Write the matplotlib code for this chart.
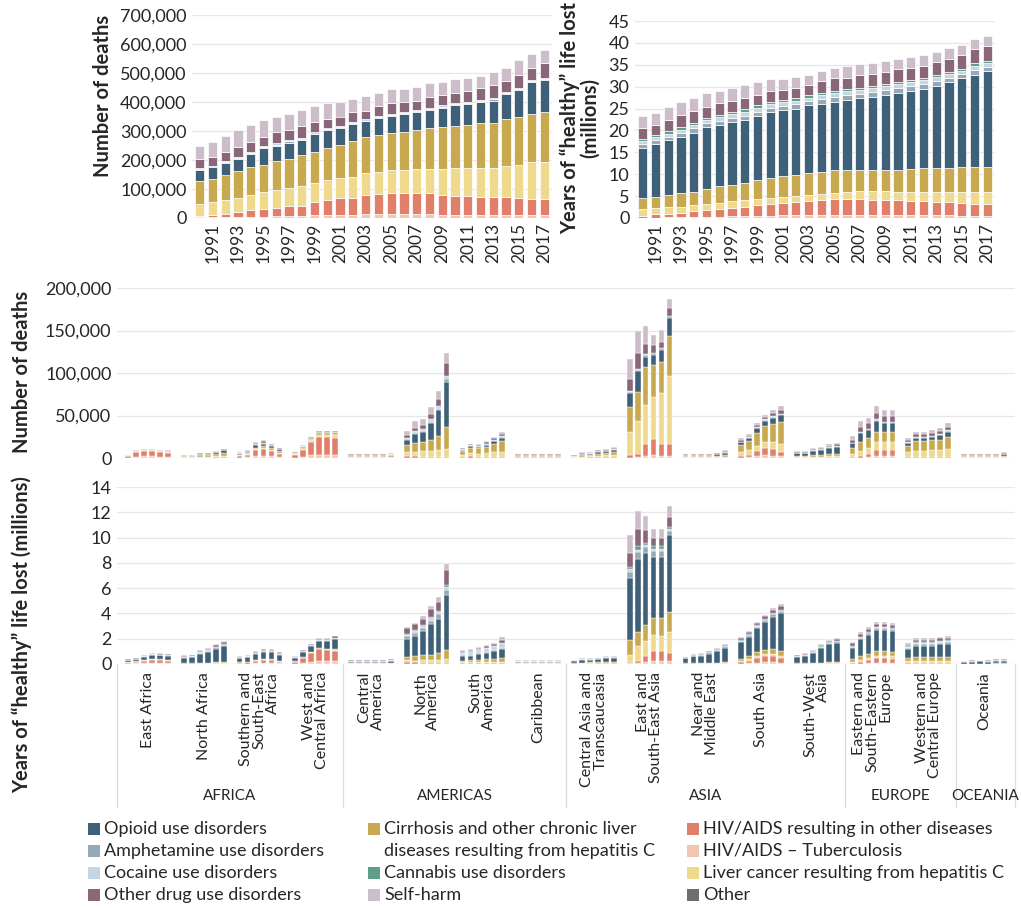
import matplotlib
matplotlib.use("Agg")
import matplotlib.pyplot as plt
import numpy as np
from matplotlib.patches import Rectangle
from matplotlib.ticker import FuncFormatter
import matplotlib.transforms as mtransforms

plt.rcParams['font.family'] = ['Lato', 'DejaVu Sans']

# ---------------- series definitions ----------------
series_names = ["HIV/AIDS \u2013 Tuberculosis", "HIV/AIDS resulting in other diseases",
                "Liver cancer resulting from hepatitis C",
                "Cirrhosis and other chronic liver\ndiseases resulting from hepatitis C",
                "Opioid use disorders", "Amphetamine use disorders", "Cocaine use disorders",
                "Cannabis use disorders", "Other drug use disorders", "Self-harm", "Other"]
colors = ["#f2c4b3", "#e0806a", "#efd98c", "#c9a94f", "#3f6079", "#98a9b6", "#c5d5e4",
          "#5e9f8c", "#8a6679", "#cdbdcb", "#6e6e6e"]

years = list(range(1990, 2018))

# ---------------- global deaths (thousands) ----------------
d_tb = [2, 2, 3, 4, 5, 5, 6, 7, 7, 9, 10, 11, 12, 13, 14, 14, 14, 14, 13, 12, 12, 11, 11, 10, 10, 10, 9, 9]
d_hiv = [6, 8, 12, 18, 23, 25, 29, 35, 36, 46, 52, 57, 58, 65, 68, 71, 72, 72, 73, 66, 65, 65, 62, 62, 62, 60, 57, 56]
d_liv = [41, 45, 47, 46, 50, 58, 62, 63, 69, 67, 68, 69, 73, 78, 78, 80, 80, 82, 84, 92, 95, 96, 99, 101, 106, 113, 126, 128]
d_cirr = [77, 80, 88, 94, 99, 94, 101, 100, 106, 106, 113, 115, 122, 124, 125, 127, 132, 137, 142, 143, 146, 148, 155, 155, 162, 164, 168, 173]
d_opi = [40, 40, 40, 43, 43, 58, 52, 55, 50, 60, 62, 60, 60, 53, 60, 60, 59, 60, 60, 67, 70, 73, 73, 77, 87, 93, 108, 109]
d_amph = [3, 3, 3, 3, 4, 4, 3, 4, 4, 3, 3, 3, 2, 3, 3, 4, 4, 4, 4, 4, 4, 3, 4, 5, 4, 5, 4, 4]
d_coc = [3, 3, 3, 4, 4, 4, 4, 4, 4, 4, 4, 3, 3, 4, 4, 4, 4, 4, 4, 4, 4, 4, 4, 5, 4, 5, 5, 4]
d_oth = [31, 31, 30, 32, 34, 32, 40, 35, 40, 35, 30, 32, 35, 30, 33, 38, 35, 32, 38, 37, 36, 37, 39, 45, 38, 42, 41, 50]
d_self = [44, 50, 57, 60, 60, 57, 53, 54, 56, 55, 56, 49, 47, 50, 47, 47, 45, 47, 47, 45, 46, 46, 43, 45, 45, 53, 47, 47]

# ---------------- global DALYs (millions) ----------------
y_tb = [.1, .1, .2, .2, .3, .3, .3, .4, .4, .5, .5, .6, .6, .6, .7, .7, .7, .7, .7, .7, .6, .6, .6, .6, .6, .5, .5, .5]
y_hiv = [.4, .7, .8, 1.0, 1.3, 1.5, 1.7, 1.8, 2.1, 2.4, 2.7, 2.9, 3.1, 3.3, 3.3, 3.6, 3.7, 3.6, 3.5, 3.4, 3.4, 3.3, 3.2, 3.1, 3.0, 3.0, 2.8, 2.7]
y_liv = [1.5, 1.4, 1.4, 1.4, 1.3, 1.4, 1.5, 1.6, 1.5, 1.4, 1.4, 1.3, 1.3, 1.4, 1.5, 1.5, 1.6, 1.9, 2.0, 2.0, 2.0, 2.1, 2.2, 2.3, 2.4, 2.5, 2.7, 2.8]
y_cirr = [2.5, 2.6, 2.8, 3.0, 3.1, 3.5, 3.8, 3.7, 3.9, 4.4, 4.6, 4.7, 4.8, 4.9, 5.1, 5.2, 5.0, 4.8, 4.8, 4.9, 5.0, 5.3, 5.4, 5.4, 5.5, 5.6, 5.7, 5.7]
y_opi = [11.4, 12.2, 12.6, 13.0, 13.5, 14.0, 13.9, 14.5, 14.5, 14.5, 15.0, 15.1, 15.2, 15.6, 15.5, 15.5, 16.0, 16.3, 16.7, 17.1, 17.6, 17.7, 18.1, 18.8, 19.6, 20.3, 21.0, 21.8]
y_amph = [.9, .8, .8, .9, 1.0, .9, 1.0, .9, 1.0, 1.1, 1.0, 1.0, 1.0, 1.0, 1.1, 1.1, 1.1, 1.1, 1.1, 1.1, 1.1, 1.1, 1.1, 1.0, .9, .9, 1.1, 1.0]
y_coc = [.7, .7, .7, .7, .8, .7, .8, .8, .9, .9, .8, .8, .8, .7, .9, .9, .9, .9, .9, .9, .9, 1.0, .9, .9, .8, .7, 1.0, .8]
y_cann = [.5, .5, .5, .5, .5, .5, .5, .5, .5, .5, .5, .5, .5, .5, .5, .5, .5, .5, .5, .5, .5, .5, .5, .5, .5, .5, .5, .5]
y_oth = [2.5, 2.2, 2.5, 2.9, 2.6, 2.5, 2.7, 2.5, 2.6, 2.5, 2.4, 2.4, 2.4, 2.3, 2.6, 2.9, 2.5, 2.9, 2.8, 2.8, 2.9, 2.7, 2.8, 3.0, 3.0, 3.2, 3.2, 3.4]
y_self = [2.7, 2.8, 3.0, 3.0, 2.9, 3.3, 2.8, 3.1, 2.9, 2.8, 2.9, 2.5, 2.6, 2.4, 2.3, 2.4, 2.8, 2.4, 2.5, 2.5, 2.3, 2.5, 2.4, 2.4, 2.5, 2.4, 2.4, 2.4]

# ---------------- regions ----------------
regions = ["East Africa", "North Africa", "Southern and\nSouth-East\nAfrica", "West and\nCentral Africa",
           "Central\nAmerica", "North\nAmerica", "South\nAmerica", "Caribbean",
           "Central Asia and\nTranscaucasia", "East and\nSouth-East Asia", "Near and\nMiddle East",
           "South Asia", "South-West\nAsia", "Eastern and\nSouth-Eastern\nEurope",
           "Western and\nCentral Europe", "Oceania"]
continents = ["AFRICA", "AMERICAS", "ASIA", "EUROPE", "OCEANIA"]
continent_sizes = [4, 4, 5, 2, 1]

# regional deaths (thousands), 6 bars per region
rd_tb = [[0.5, 1.5, 2, 2, 1.5, 1.2], [0, 0, 0, 0, 0, 0], [0.5, 0.8, 2, 2.5, 2, 1.2], [0.5, 1.5, 3, 4, 4, 4],
         [0.1, 0.1, 0.1, 0.1, 0.1, 0.1], [0.2, 0.2, 0.2, 0.2, 0.2, 0.2], [0.2, 0.3, 0.3, 0.3, 0.3, 0.3], [0.1, 0.1, 0.1, 0.1, 0.1, 0.1],
         [0, 0.1, 0.2, 0.3, 0.3, 0.3], [0.5, 1, 2, 3, 2.5, 2], [0, 0, 0, 0, 0, 0], [0.5, 1, 2, 3, 2.5, 2],
         [0, 0, 0, 0, 0, 0], [0.1, 0.5, 1, 2, 2, 2], [0.1, 0.1, 0.1, 0.1, 0.1, 0.1], [0, 0, 0, 0, 0, 0]]
rd_hiv = [[1.5, 5, 6, 6, 5.5, 4.5], [0.2, 0.2, 0.4, 0.5, 0.6, 0.6], [1.5, 2.5, 7, 8, 6, 3.5], [3, 8, 16, 21, 21, 20],
          [0.3, 0.3, 0.3, 0.3, 0.3, 0.3], [2.5, 2, 1.5, 1.2, 1, 0.8], [1, 1.5, 1.2, 1.2, 1.2, 1.2], [0.5, 0.5, 0.5, 0.5, 0.5, 0.5],
          [0.1, 0.3, 0.5, 0.8, 0.9, 1], [2.5, 4, 14, 19, 14.5, 15], [0.1, 0.1, 0.1, 0.2, 0.2, 0.3], [2, 3, 6, 9, 8, 5],
          [0.1, 0.1, 0.2, 0.3, 0.3, 0.3], [0.5, 2, 4, 7, 7, 7], [1.5, 1.5, 1.2, 1, 0.9, 0.8], [0.1, 0.1, 0.1, 0.1, 0.1, 0.1]]
rd_liv = [[0.5, 0.8, 1, 1, 1, 1], [0.8, 0.6, 1.2, 1.2, 1.5, 2], [1, 1, 1.5, 1.5, 1.5, 1.5], [1, 1.5, 2, 2.5, 2.5, 2.8],
          [1, 1, 1, 1, 1, 1.2], [4, 5, 6, 7, 8, 10], [2.5, 3.5, 3.5, 4, 5, 6], [0.8, 0.8, 0.8, 0.8, 0.8, 0.8],
          [0.8, 1.2, 1.2, 1.6, 1.8, 2], [28, 39, 46, 50, 59, 79], [0.8, 0.8, 0.8, 0.8, 0.9, 1.2], [4, 5, 6, 7, 8, 9],
          [0.8, 0.8, 1.2, 1.3, 1.6, 1.8], [4, 6, 7, 10, 9.5, 9.5], [5, 7, 7.5, 8, 8.5, 10], [0.7, 0.7, 0.7, 0.7, 0.7, 1]]
rd_cirr = [[0.5, 0.7, 0.8, 0.8, 0.8, 0.9], [1.2, 0.9, 1.8, 1.8, 2.4, 3.5], [1, 1.2, 1.8, 1.8, 1.8, 1.8], [0.8, 1.2, 1.5, 1.8, 1.8, 2],
           [1.2, 1.2, 1.2, 1.2, 1.2, 1.4], [9, 11, 11, 13, 17, 26], [5, 7, 7, 8, 10, 12.5], [1.2, 1.2, 1.2, 1.2, 1.2, 1.2],
           [1, 1.8, 1.8, 2.5, 2.8, 3.4], [29, 34, 45, 37, 37, 48], [1, 1, 1, 1, 1.2, 1.6], [9, 11, 16, 19, 22, 26],
           [1.2, 1.2, 1.8, 1.9, 2.3, 2.7], [7, 10, 11, 12, 12, 12], [8, 11, 11, 11.5, 12, 14], [1, 1, 1, 1, 1, 1.4]]
rd_opi = [[0.3, 0.3, 0.4, 0.4, 0.4, 0.4], [0.8, 0.6, 1.3, 1.3, 2, 3], [1.2, 1.5, 3, 3.2, 2.8, 2.2], [0.6, 1.2, 1, 1, 1, 1.2],
          [0.6, 0.6, 0.6, 0.6, 0.6, 0.8], [6, 10, 12, 20, 30, 53], [1, 1.5, 1.5, 2, 3, 4], [0.7, 0.7, 0.7, 0.7, 0.7, 0.7],
          [0.7, 1.5, 1.4, 2.3, 2.5, 3.1], [16, 24, 12, 12, 14, 21], [1.5, 1.5, 1.5, 1.5, 1.9, 3.3], [3, 3.5, 5, 6, 7, 8.5],
          [3.5, 3.5, 5.5, 6, 7.5, 8.5], [6, 11, 10, 13, 11, 11], [3, 4, 4, 4.5, 5, 6], [1.5, 1.5, 1.5, 1.5, 1.5, 2.2]]
rd_amph = [[0.1, 0.1, 0.1, 0.1, 0.1, 0.1], [0.1, 0.1, 0.2, 0.2, 0.2, 0.3], [0.3, 0.4, 0.7, 0.8, 0.7, 0.5], [0.1, 0.1, 0.1, 0.1, 0.1, 0.1],
           [0.2, 0.2, 0.2, 0.2, 0.2, 0.2], [0.8, 1, 1.2, 1.5, 2, 3], [0.2, 0.3, 0.3, 0.3, 0.4, 0.5], [0.2, 0.2, 0.2, 0.2, 0.2, 0.2],
           [0.1, 0.2, 0.2, 0.3, 0.3, 0.3], [2, 2, 2, 2, 2, 1.5], [0.3, 0.3, 0.3, 0.3, 0.4, 0.6], [0.5, 0.5, 0.8, 1, 1, 1.2],
           [0.4, 0.4, 0.6, 0.7, 0.8, 0.9], [0.4, 0.8, 0.8, 1, 1, 1], [0.3, 0.4, 0.4, 0.4, 0.5, 0.6], [0.3, 0.3, 0.3, 0.3, 0.3, 0.4]]
rd_coc = [[0, 0, 0, 0, 0, 0], [0.1, 0.1, 0.1, 0.1, 0.1, 0.1], [0.2, 0.2, 0.4, 0.4, 0.3, 0.3], [0.1, 0.1, 0.1, 0.1, 0.1, 0.1],
          [0.3, 0.3, 0.3, 0.3, 0.3, 0.3], [1.5, 2, 2, 2.5, 3, 4], [0.5, 0.8, 0.8, 1, 1.2, 1.5], [0.4, 0.4, 0.4, 0.4, 0.4, 0.4],
          [0, 0, 0, 0, 0, 0], [1, 1, 1, 1, 1, 1], [0, 0, 0, 0, 0, 0], [0.2, 0.3, 0.4, 0.5, 0.5, 0.6],
          [0.1, 0.1, 0.1, 0.1, 0.1, 0.1], [0.2, 0.3, 0.3, 0.4, 0.4, 0.4], [0.5, 0.7, 0.7, 0.8, 0.8, 1], [0.1, 0.1, 0.1, 0.1, 0.1, 0.1]]
rd_oth = [[0.3, 0.3, 0.4, 0.4, 0.4, 0.5], [0.4, 0.3, 0.6, 0.6, 0.8, 1], [0.7, 0.8, 1.5, 1.6, 1.2, 0.8], [0.5, 0.8, 0.8, 0.9, 0.9, 1],
          [0.7, 0.7, 0.7, 0.7, 0.7, 0.8], [3, 4, 5, 6, 8, 15], [0.8, 1.1, 1.2, 1.5, 2, 2.5], [0.6, 0.6, 0.6, 0.6, 0.6, 0.6],
          [0.6, 1, 0.9, 1.2, 1.3, 1.5], [14, 19, 12, 9, 7, 8.5], [0.7, 0.7, 0.7, 0.6, 0.7, 1], [1.8, 2, 2.8, 3, 3.5, 4],
          [1, 1, 1.4, 1.5, 1.8, 2], [3.5, 6, 6.5, 8, 7, 7], [2.2, 3, 3, 3.2, 3.5, 4.2], [0.6, 0.6, 0.6, 0.6, 0.6, 0.8]]
rd_self = [[0.3, 0.3, 0.3, 0.3, 0.3, 0.4], [0.4, 0.3, 0.5, 0.4, 0.5, 0.6], [0.6, 0.6, 1.1, 1.2, 0.7, 0.2], [0.4, 0.6, 0.5, 0.6, 0.6, 0.7],
           [0.6, 0.6, 0.6, 0.6, 0.6, 0.7], [5, 7.8, 7.1, 8.6, 9.8, 12], [0.8, 1, 1.2, 1.7, 1.9, 2.5], [0.5, 0.5, 0.5, 0.5, 0.5, 0.5],
           [0.7, 0.9, 0.8, 1, 1.1, 1.4], [23, 26, 21, 12, 13, 11], [0.6, 0.6, 0.6, 0.6, 0.7, 1], [2, 1.7, 2, 2.5, 3.5, 4.7],
           [0.9, 0.9, 1.2, 1.2, 1.5, 1.7], [4.3, 6.4, 6.4, 7.6, 7.1, 7.1], [2.4, 3.3, 3.1, 3.5, 3.7, 4.3], [0.7, 0.7, 0.7, 0.7, 0.7, 1]]

# regional DALYs (millions)
ry_tb = [[0.02, 0.04, 0.06, 0.07, 0.07, 0.06], [0, 0, 0, 0, 0, 0], [0.02, 0.03, 0.06, 0.08, 0.07, 0.04], [0.02, 0.07, 0.15, 0.2, 0.2, 0.2],
         [0, 0, 0, 0, 0, 0], [0.01, 0.01, 0.01, 0.01, 0.01, 0.01], [0.01, 0.01, 0.01, 0.01, 0.01, 0.01], [0, 0, 0, 0, 0, 0],
         [0, 0, 0, 0, 0, 0], [0.05, 0.05, 0.15, 0.2, 0.2, 0.2], [0, 0, 0, 0, 0, 0], [0.03, 0.05, 0.1, 0.12, 0.12, 0.1],
         [0, 0, 0, 0, 0, 0], [0.01, 0.03, 0.06, 0.1, 0.1, 0.1], [0.01, 0.01, 0.01, 0.01, 0.01, 0.01], [0, 0, 0, 0, 0, 0]]
ry_hiv = [[0.08, 0.12, 0.2, 0.25, 0.24, 0.2], [0.01, 0.01, 0.02, 0.03, 0.03, 0.03], [0.06, 0.1, 0.2, 0.26, 0.22, 0.12], [0.13, 0.4, 0.75, 0.95, 0.9, 0.85],
          [0.02, 0.02, 0.02, 0.02, 0.02, 0.02], [0.15, 0.12, 0.1, 0.08, 0.07, 0.06], [0.05, 0.05, 0.05, 0.05, 0.05, 0.05], [0.03, 0.03, 0.03, 0.03, 0.03, 0.03],
          [0.01, 0.02, 0.03, 0.04, 0.05, 0.05], [0.1, 0.15, 0.45, 0.8, 0.8, 0.7], [0.01, 0.01, 0.01, 0.01, 0.01, 0.01], [0.1, 0.2, 0.4, 0.5, 0.5, 0.35],
          [0.01, 0.01, 0.01, 0.01, 0.01, 0.01], [0.05, 0.15, 0.25, 0.35, 0.35, 0.33], [0.08, 0.07, 0.06, 0.05, 0.05, 0.05], [0, 0, 0, 0, 0, 0]]
ry_liv = [[0.02, 0.03, 0.03, 0.04, 0.04, 0.04], [0.02, 0.02, 0.03, 0.03, 0.04, 0.05], [0.03, 0.03, 0.04, 0.04, 0.04, 0.04], [0.03, 0.04, 0.05, 0.06, 0.06, 0.07],
          [0.02, 0.02, 0.02, 0.02, 0.02, 0.02], [0.12, 0.14, 0.17, 0.2, 0.25, 0.3], [0.06, 0.07, 0.08, 0.09, 0.1, 0.12], [0.02, 0.02, 0.02, 0.02, 0.02, 0.02],
          [0.02, 0.03, 0.03, 0.03, 0.04, 0.04], [0.59, 1.2, 1.2, 1.3, 1.2, 1.6], [0.02, 0.02, 0.03, 0.03, 0.04, 0.05], [0.1, 0.12, 0.14, 0.16, 0.18, 0.2],
          [0.02, 0.02, 0.03, 0.04, 0.05, 0.05], [0.1, 0.15, 0.17, 0.22, 0.22, 0.21], [0.12, 0.15, 0.16, 0.17, 0.18, 0.19], [0.01, 0.01, 0.01, 0.01, 0.02, 0.02]]
ry_cirr = [[0.02, 0.03, 0.03, 0.04, 0.04, 0.04], [0.03, 0.03, 0.05, 0.05, 0.06, 0.08], [0.03, 0.03, 0.04, 0.04, 0.04, 0.04], [0.02, 0.03, 0.03, 0.04, 0.04, 0.05],
           [0.03, 0.03, 0.03, 0.03, 0.03, 0.03], [0.3, 0.35, 0.4, 0.45, 0.55, 0.7], [0.15, 0.17, 0.19, 0.21, 0.23, 0.27], [0.03, 0.03, 0.03, 0.03, 0.03, 0.03],
           [0.04, 0.06, 0.06, 0.07, 0.08, 0.08], [1.16, 1.1, 1.3, 1.3, 1.4, 1.6], [0.02, 0.03, 0.03, 0.04, 0.05, 0.06], [0.2, 0.23, 0.28, 0.32, 0.35, 0.4],
           [0.03, 0.03, 0.04, 0.05, 0.06, 0.07], [0.2, 0.28, 0.3, 0.35, 0.35, 0.34], [0.25, 0.3, 0.3, 0.3, 0.32, 0.33], [0.02, 0.02, 0.02, 0.02, 0.03, 0.03]]
ry_opi = [[0.15, 0.17, 0.24, 0.3, 0.3, 0.3], [0.45, 0.48, 0.72, 0.86, 1.07, 1.24], [0.3, 0.34, 0.46, 0.54, 0.54, 0.5], [0.3, 0.42, 0.45, 0.58, 0.62, 0.82],
          [0.1, 0.1, 0.1, 0.1, 0.1, 0.15], [1.4, 1.6, 1.9, 2.4, 2.7, 4.4], [0.35, 0.37, 0.45, 0.5, 0.6, 0.72], [0.08, 0.08, 0.08, 0.08, 0.08, 0.08],
          [0.18, 0.24, 0.23, 0.26, 0.32, 0.32], [4.9, 5.8, 5.7, 4.9, 4.9, 6.1], [0.4, 0.55, 0.6, 0.75, 0.9, 1.15], [1.3, 1.55, 1.9, 2.2, 2.6, 2.95],
          [0.5, 0.6, 0.8, 1.18, 1.43, 1.53], [0.9, 1.35, 1.55, 1.7, 1.7, 1.63], [0.72, 0.92, 0.92, 0.93, 1.0, 1.02], [0.13, 0.16, 0.19, 0.16, 0.22, 0.22]]
ry_amph = [[0.03, 0.03, 0.04, 0.05, 0.05, 0.05], [0.05, 0.05, 0.08, 0.09, 0.11, 0.13], [0.05, 0.05, 0.07, 0.08, 0.08, 0.07], [0.03, 0.04, 0.05, 0.06, 0.06, 0.07],
           [0.03, 0.03, 0.03, 0.03, 0.03, 0.03], [0.2, 0.22, 0.25, 0.3, 0.35, 0.4], [0.08, 0.08, 0.09, 0.1, 0.11, 0.13], [0.02, 0.02, 0.02, 0.02, 0.02, 0.02],
           [0.03, 0.03, 0.03, 0.03, 0.03, 0.03], [0.5, 0.55, 0.45, 0.45, 0.45, 0.35], [0.05, 0.06, 0.07, 0.08, 0.1, 0.12], [0.1, 0.12, 0.14, 0.15, 0.17, 0.18],
           [0.05, 0.06, 0.08, 0.1, 0.12, 0.13], [0.1, 0.13, 0.14, 0.15, 0.15, 0.14], [0.1, 0.13, 0.13, 0.13, 0.14, 0.14], [0.03, 0.04, 0.05, 0.04, 0.05, 0.05]]
ry_coc = [[0.01, 0.01, 0.01, 0.01, 0.01, 0.01], [0.01, 0.01, 0.01, 0.01, 0.01, 0.01], [0.02, 0.02, 0.02, 0.02, 0.02, 0.02], [0.01, 0.01, 0.02, 0.02, 0.02, 0.02],
          [0.04, 0.04, 0.04, 0.04, 0.04, 0.05], [0.15, 0.16, 0.17, 0.18, 0.2, 0.25], [0.2, 0.22, 0.25, 0.28, 0.3, 0.35], [0.05, 0.05, 0.05, 0.05, 0.05, 0.05],
          [0, 0, 0, 0, 0, 0], [0.2, 0.2, 0.15, 0.15, 0.15, 0.1], [0, 0, 0, 0, 0, 0], [0.01, 0.01, 0.01, 0.01, 0.01, 0.01],
          [0, 0, 0, 0, 0, 0], [0.02, 0.02, 0.02, 0.02, 0.02, 0.02], [0.07, 0.09, 0.09, 0.09, 0.09, 0.09], [0.01, 0.01, 0.01, 0.01, 0.01, 0.01]]
ry_cann = [[0, 0, 0, 0, 0, 0], [0.02, 0.02, 0.03, 0.03, 0.04, 0.04], [0.01, 0.01, 0.01, 0.01, 0.01, 0.01], [0.01, 0.01, 0, 0, 0, 0],
           [0.01, 0.01, 0.01, 0.01, 0.01, 0.01], [0.08, 0.08, 0.09, 0.1, 0.1, 0.1], [0.03, 0.03, 0.03, 0.03, 0.03, 0.03], [0.01, 0.01, 0.01, 0.01, 0.01, 0.01],
           [0.01, 0.01, 0.01, 0.01, 0.01, 0.01], [0.2, 0.25, 0.2, 0.2, 0.2, 0.15], [0.02, 0.02, 0.02, 0.03, 0.03, 0.03], [0.06, 0.07, 0.08, 0.09, 0.1, 0.1],
           [0.02, 0.02, 0.03, 0.04, 0.04, 0.04], [0.05, 0.06, 0.06, 0.06, 0.06, 0.06], [0.05, 0.06, 0.06, 0.06, 0.06, 0.06], [0.01, 0.01, 0.01, 0.01, 0.01, 0.01]]
ry_oth = [[0.04, 0.05, 0.06, 0.07, 0.07, 0.07], [0.06, 0.07, 0.09, 0.11, 0.13, 0.15], [0.05, 0.06, 0.07, 0.08, 0.08, 0.07], [0.03, 0.05, 0.07, 0.08, 0.09, 0.1],
          [0.03, 0.03, 0.03, 0.03, 0.03, 0.05], [0.4, 0.45, 0.5, 0.6, 0.7, 1.2], [0.1, 0.11, 0.13, 0.14, 0.16, 0.2], [0.03, 0.03, 0.03, 0.03, 0.03, 0.03],
          [0.04, 0.04, 0.04, 0.04, 0.05, 0.05], [1.1, 1.4, 1.0, 0.7, 0.7, 0.8], [0.04, 0.05, 0.05, 0.06, 0.07, 0.09], [0.16, 0.18, 0.2, 0.22, 0.25, 0.28],
          [0.05, 0.06, 0.07, 0.1, 0.12, 0.13], [0.2, 0.24, 0.25, 0.25, 0.25, 0.24], [0.14, 0.18, 0.18, 0.18, 0.19, 0.19], [0.03, 0.03, 0.04, 0.03, 0.04, 0.04]]
ry_self = [[0.03, 0.02, 0.03, 0.02, 0.03, 0.03], [0.05, 0.06, 0.07, 0.09, 0.11, 0.12], [0.03, 0.03, 0.03, 0.05, 0.05, 0.04], [0.02, 0.03, 0.03, 0.06, 0.06, 0.07],
           [0.02, 0.02, 0.02, 0.02, 0.02, 0.04], [0.09, 0.12, 0.21, 0.28, 0.37, 0.48], [0.07, 0.07, 0.07, 0.09, 0.11, 0.22], [0.03, 0.03, 0.03, 0.03, 0.03, 0.03],
           [0.02, 0.02, 0.02, 0.02, 0.02, 0.02], [1.4, 1.4, 1.1, 0.7, 0.7, 0.9], [0.02, 0.03, 0.03, 0.03, 0.04, 0.05], [0.1, 0.11, 0.1, 0.11, 0.12, 0.15],
           [0.03, 0.04, 0.04, 0.06, 0.07, 0.07], [0.14, 0.15, 0.1, 0.15, 0.15, 0.15], [0.1, 0.12, 0.12, 0.11, 0.12, 0.12], [0.01, 0.02, 0.02, 0.02, 0.02, 0.02]]

# ---------------- figure ----------------
fig = plt.figure(figsize=(10.21, 9.08), dpi=100)
W, H = 1021.0, 908.0

def px_axes(left, top, right, bottom):
    return fig.add_axes([left / W, 1 - bottom / H, (right - left) / W, (bottom - top) / H])

GRID = "#e6e6e6"
TXT = "#262626"
TICK = 13
YLAB = 14.5

def style(ax):
    for s in ax.spines.values():
        s.set_visible(False)
    ax.yaxis.grid(True, color=GRID, linewidth=0.9)
    ax.set_axisbelow(True)
    ax.tick_params(axis='both', length=0, colors=TXT, labelsize=TICK)
    ax.tick_params(axis='y', pad=4)

def stack(ax, x, layers, cols, width, lw):
    bottom = np.zeros(len(x))
    for vals, col in zip(layers, cols):
        v = np.asarray(vals, dtype=float)
        ax.bar(x, v, width=width, bottom=bottom, color=col, edgecolor="white", linewidth=lw)
        bottom += v

comma = FuncFormatter(lambda v, p: f"{int(round(v)):,}")

def ylab(xc, yc, text):
    fig.text(xc / W, 1 - yc / H, text, rotation=90, ha='center', va='center', fontsize=YLAB,
             fontweight='bold', color=TXT, linespacing=1.0, multialignment='center')

# top-left: deaths (values in thousands -> deaths)
ax1 = px_axes(192, 15, 552, 218)
style(ax1)
xi = np.arange(len(years))
stack(ax1, xi, [np.array(s) * 1000 for s in [d_tb, d_hiv, d_liv, d_cirr, d_opi, d_amph, d_coc, d_oth, d_self]],
      [colors[i] for i in [0, 1, 2, 3, 4, 5, 6, 8, 9]], 0.72, 0.5)
ax1.set_ylim(0, 700000)
ax1.set_yticks(np.arange(0, 700001, 100000))
ax1.yaxis.set_major_formatter(comma)
ax1.set_xlim(-0.6, len(years) - 0.4)
ax1.set_xticks(xi[1::2])
ax1.set_xticklabels([str(y) for y in years[1::2]], rotation=90, fontsize=12.5)
ylab(103, 96, "Number of deaths")

# top-right: DALYs
ax2 = px_axes(635, 21, 995, 218)
style(ax2)
stack(ax2, xi, [y_tb, y_hiv, y_liv, y_cirr, y_opi, y_amph, y_coc, y_cann, y_oth, y_self],
      [colors[i] for i in [0, 1, 2, 3, 4, 5, 6, 7, 8, 9]], 0.72, 0.5)
ax2.set_ylim(0, 45)
ax2.set_yticks(np.arange(0, 46, 5))
ax2.set_xlim(-0.6, len(years) - 0.4)
ax2.set_xticks(xi[1::2])
ax2.set_xticklabels([str(y) for y in years[1::2]], rotation=90, fontsize=12.5)
ylab(580, 118, "Years of \u201chealthy\u201d life lost\n(millions)")

# regional positions
nreg = len(regions)
xr = np.array([g * 7 + i for g in range(nreg) for i in range(6)], dtype=float)
flat = lambda L: [v for sub in L for v in sub]
XL = (-1.4, nreg * 7 - 0.6)

# middle: regional deaths
ax3 = px_axes(117, 288, 1015, 458)
style(ax3)
stack(ax3, xr, [np.array(flat(L)) * 1000 for L in [rd_tb, rd_hiv, rd_liv, rd_cirr, rd_opi, rd_amph, rd_coc, rd_oth, rd_self]],
      [colors[i] for i in [0, 1, 2, 3, 4, 5, 6, 8, 9]], 0.72, 0.3)
ax3.set_ylim(0, 200000)
ax3.set_yticks(np.arange(0, 200001, 50000))
ax3.yaxis.set_major_formatter(comma)
ax3.set_xlim(*XL)
ax3.set_xticks([])
ylab(22, 372, "Number of deaths")

# bottom: regional DALYs
ax4 = px_axes(117, 487, 1015, 664)
style(ax4)
stack(ax4, xr, [flat(L) for L in [ry_tb, ry_hiv, ry_liv, ry_cirr, ry_opi, ry_amph, ry_coc, ry_cann, ry_oth, ry_self]],
      [colors[i] for i in [0, 1, 2, 3, 4, 5, 6, 7, 8, 9]], 0.72, 0.3)
ax4.set_ylim(0, 14)
ax4.set_yticks(np.arange(0, 15, 2))
ax4.set_xlim(*XL)
ax4.set_xticks([])
ylab(22, 635, "Years of \u201chealthy\u201d life lost (millions)")

# category axis: region labels, continent labels and separators
trans = mtransforms.blended_transform_factory(ax4.transData, ax4.transAxes)
for g, name in enumerate(regions):
    ax4.text(g * 7 + 2.5, -0.045, name, transform=trans, rotation=90, ha='center', va='top',
             multialignment='right', fontsize=11.5, color=TXT, linespacing=0.92)
bounds = [XL[0]]
start = 0
for size in continent_sizes:
    start += size
    bounds.append(start * 7 - 1 if start < nreg else XL[1])
for k, cname in enumerate(continents):
    mid = (bounds[k] + bounds[k + 1]) / 2
    ax4.text(mid, -0.745, cname, transform=trans, ha='center', va='center', fontsize=11, color=TXT)
for b in bounds:
    ax4.plot([b, b], [0, -0.81], transform=trans, color="#dcdcdc", linewidth=0.9, clip_on=False)

# legend (manual, three columns)
leg_rows = [829, 851, 873, 895]
leg_items = [
    (88, 104, 0, 4), (88, 104, 1, 5), (88, 104, 2, 6), (88, 104, 3, 8),
    (368, 384, 0, 3), (368, 384, 2, 7), (368, 384, 3, 9),
    (687, 703, 0, 1), (687, 703, 1, 0), (687, 703, 2, 2), (687, 703, 3, 10),
]
sq = 12
for xs, xt, row, si in leg_items:
    yc = leg_rows[row]
    fig.add_artist(Rectangle((xs / W, 1 - (yc + sq / 2) / H), sq / W, sq / H,
                             transform=fig.transFigure, facecolor=colors[si], edgecolor='none'))
    label = series_names[si]
    if si == 3:
        fig.text(xt / W, 1 - yc / H, label.split("\n")[0], ha='left', va='center', fontsize=13, color=TXT)
        fig.text(xt / W, 1 - leg_rows[1] / H, label.split("\n")[1], ha='left', va='center', fontsize=13, color=TXT)
    else:
        fig.text(xt / W, 1 - yc / H, label, ha='left', va='center', fontsize=13, color=TXT)

fig.savefig("out.png", dpi=100)
